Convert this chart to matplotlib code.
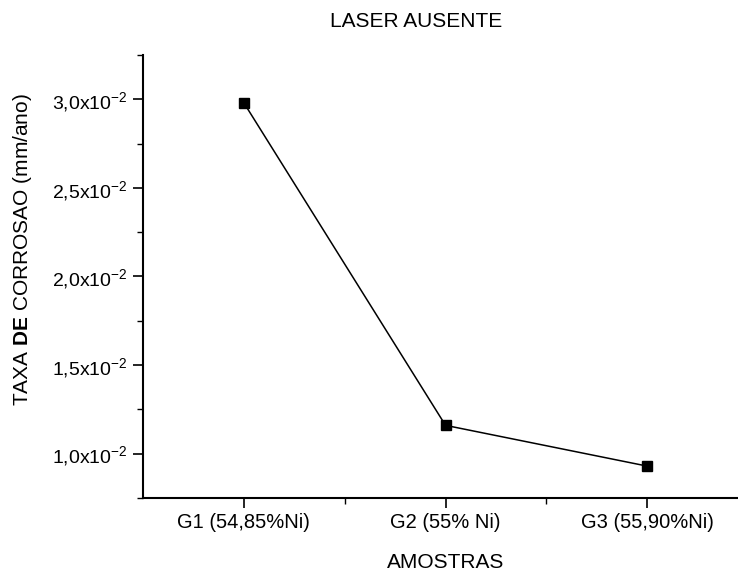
import matplotlib

matplotlib.use("Agg")

import matplotlib.pyplot as plt
from matplotlib.ticker import FixedLocator, FuncFormatter, MultipleLocator

plt.rcParams["font.family"] = ["Liberation Sans", "DejaVu Sans"]
plt.rcParams["mathtext.fontset"] = "custom"
plt.rcParams["mathtext.rm"] = "Liberation Sans"
plt.rcParams["mathtext.it"] = "Liberation Sans"
plt.rcParams["mathtext.bf"] = "Liberation Sans:bold"

# corrosion rate per sample, no laser
amostras = ["G1 (54,85%Ni)", "G2 (55% Ni)", "G3 (55,90%Ni)"]
taxa_mm_ano = [0.0298, 0.0116, 0.0093]
y_ticks = [0.010, 0.015, 0.020, 0.025, 0.030]


def _sci_label(value, _pos):
    mant = value * 100
    return f"{mant:.1f}".replace(".", ",") + r"x10$^{-2}$"


fig = plt.figure(figsize=(7.38, 5.77), dpi=100)
ax = fig.add_axes([0.1938, 0.1369, 0.8198, 0.7678])

pos = list(range(1, len(amostras) + 1))
ax.plot(pos, taxa_mm_ano, color="black", linewidth=1.1, marker="s",
        markersize=6.5, markerfacecolor="black", markeredgecolor="black")

ax.set_xlim(0.5, 3.5)
ax.set_ylim(0.0075, 0.0325)
ax.xaxis.set_major_locator(FixedLocator(pos))
ax.xaxis.set_minor_locator(FixedLocator([1.5, 2.5]))
ax.set_xticklabels(amostras)
ax.yaxis.set_major_locator(FixedLocator(y_ticks))
ax.yaxis.set_minor_locator(MultipleLocator(0.0025))
ax.yaxis.set_major_formatter(FuncFormatter(_sci_label))

for side in ("top", "right"):
    ax.spines[side].set_visible(False)
for side in ("left", "bottom"):
    ax.spines[side].set_linewidth(1.5)

ax.tick_params(axis="both", which="major", direction="out", length=7, width=1.2, pad=4)
ax.tick_params(axis="x", which="major", labelsize=14.5)
ax.tick_params(axis="y", which="major", labelsize=14)
ax.tick_params(axis="both", which="minor", direction="out", length=4, width=1.0)

ax.set_ylabel(r"TAXA $\mathbf{DE}$ CORROSAO (mm/ano)", fontsize=15)
ax.yaxis.set_label_coords(-0.18, 0.56)
ax.set_xlabel("AMOSTRAS", fontsize=15, labelpad=15)

fig.text(0.564, 0.962, "LASER AUSENTE", fontsize=15, ha="center", va="center")

fig.savefig("out.png", dpi=100)
plt.close(fig)
